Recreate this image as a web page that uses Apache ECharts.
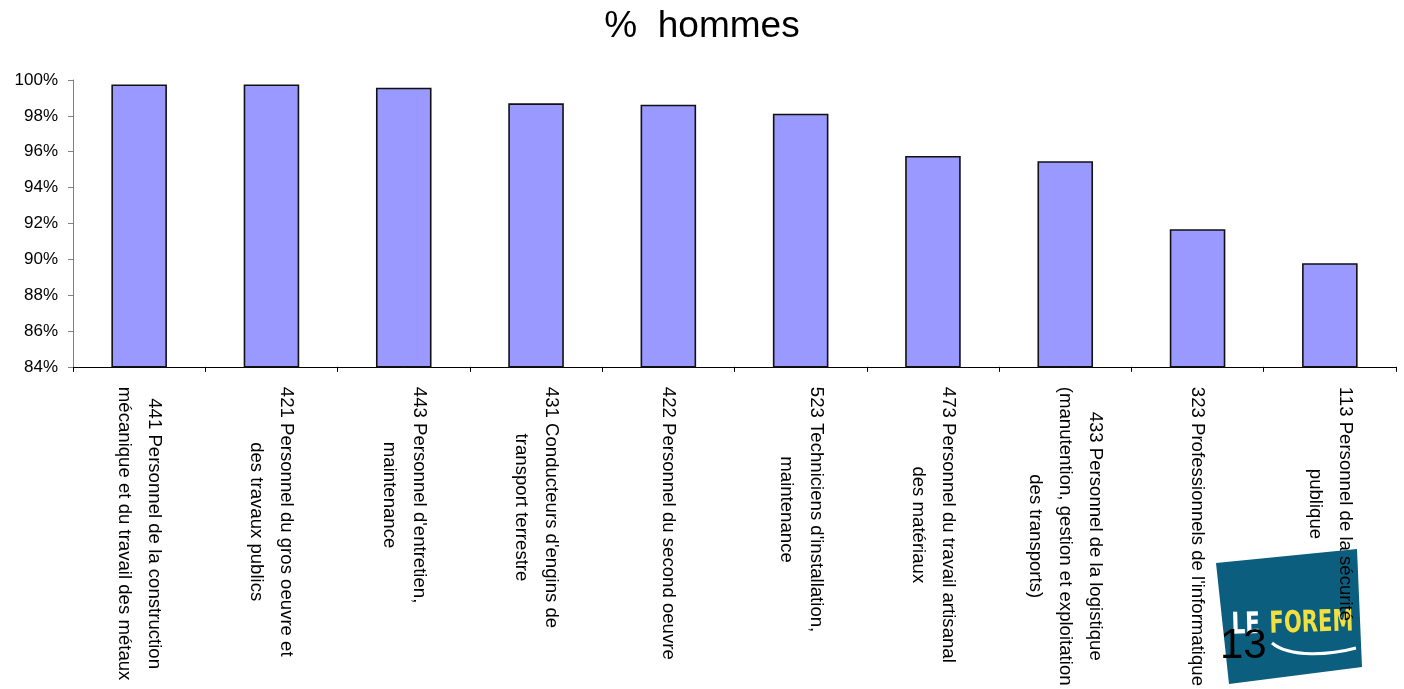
<!DOCTYPE html>
<html>
<head>
<meta charset="utf-8">
<script src="https://cdn.jsdelivr.net/npm/echarts@6/dist/echarts.min.js"></script>
<style>
html,body{margin:0;padding:0;background:#fff;}
#chart{width:1404px;height:689px;}
</style>
</head>
<body>
<div id="chart"></div>
<script>
const categories = [
  "441 Personnel de la construction\nmécanique et du travail des métaux",
  "421 Personnel du gros oeuvre et\ndes travaux publics",
  "443 Personnel d'entretien,\nmaintenance",
  "431 Conducteurs d'engins de\ntransport terrestre",
  "422 Personnel du second oeuvre",
  "523 Techniciens d'installation,\nmaintenance",
  "473 Personnel du travail artisanal\ndes matériaux",
  "433 Personnel de la logistique\n(manutention, gestion et exploitation\ndes transports)",
  "323 Professionnels de l'informatique",
  "113 Personnel de la sécurité\npublique"
];
const values = [99.75, 99.75, 99.57, 98.70, 98.62, 98.12, 95.76, 95.47, 91.68, 89.78];
const yTicks = { min: 84, max: 100, interval: 2 };
const titleText = "%  hommes";
const pageNumber = "13";

const FONT = "'Liberation Sans', Arial, sans-serif";
const chart = echarts.init(document.getElementById('chart'));
chart.setOption({
  backgroundColor: '#ffffff',
  animation: false,
  title: {
    text: titleText,
    left: 'center',
    top: 3,
    textStyle: { fontFamily: FONT, fontSize: 37, fontWeight: 'normal', color: '#000' }
  },
  grid: { left: 73, right: 8, top: 80, bottom: 322, containLabel: false },
  xAxis: {
    type: 'category',
    data: categories,
    boundaryGap: true,
    axisLine: { lineStyle: { color: '#000', width: 1 } },
    axisTick: { show: true, length: 5, lineStyle: { color: '#000' } },
    axisLabel: {
      interval: 0,
      rotate: -90,
      margin: 20,
      fontFamily: FONT,
      fontSize: 18.6,
      lineHeight: 30,
      color: '#000',
      formatter: function (v) {
        return v.split('\n').map(function (l) { return '{c|' + l + '}'; }).join('\n');
      },
      rich: {
        c: { align: 'center', fontFamily: FONT, fontSize: 18.6, lineHeight: 30, color: '#000' }
      }
    },
    splitLine: { show: false }
  },
  yAxis: {
    type: 'value',
    min: yTicks.min,
    max: yTicks.max,
    interval: yTicks.interval,
    axisLine: { show: true, lineStyle: { color: '#808080', width: 1 } },
    axisTick: { show: true, length: 5, lineStyle: { color: '#808080' } },
    axisLabel: {
      margin: 15,
      fontFamily: FONT,
      fontSize: 17,
      color: '#000',
      formatter: '{value}%'
    },
    splitLine: { show: false }
  },
  series: [{
    type: 'bar',
    data: values,
    barWidth: '42%',
    itemStyle: { color: '#9999FF', borderColor: '#111', borderWidth: 1.6 },
    z: 2
  }],
  graphic: [
    {
      type: 'group',
      z: -10,
      silent: true,
      children: [
        {
          type: 'polygon',
          shape: { points: [[1216, 563], [1357, 549], [1362, 667], [1229, 684]] },
          style: { fill: '#0B5E7E' },
          z: -10
        },
        {
          type: 'text',
          x: 1232, y: 641, rotation: 0.03, scaleX: 0.8,
          style: { text: 'LE', fill: '#ffffff', font: "bold 30px 'DejaVu Sans Condensed', 'Liberation Sans', sans-serif", textVerticalAlign: 'bottom' },
          z: -9
        },
        {
          type: 'text',
          x: 1270, y: 640, rotation: 0.03, scaleX: 0.78,
          style: { text: 'FOREM', fill: '#F0E040', font: "bold 30px 'DejaVu Sans Condensed', 'Liberation Sans', sans-serif", textVerticalAlign: 'bottom' },
          z: -9
        },
        {
          type: 'bezierCurve',
          shape: { x1: 1272, y1: 643, cpx1: 1290, cpy1: 658, cpx2: 1330, cpy2: 655, x2: 1356, y2: 648 },
          style: { stroke: '#ffffff', lineWidth: 3, fill: null },
          z: -9
        }
      ]
    },
    {
      type: 'text',
      x: 1220, y: 667,
      z: 100,
      silent: true,
      style: { text: pageNumber, fill: '#000', font: "42px 'Liberation Sans', Arial, sans-serif", textVerticalAlign: 'bottom' }
    }
  ]
});
</script>
</body>
</html>
